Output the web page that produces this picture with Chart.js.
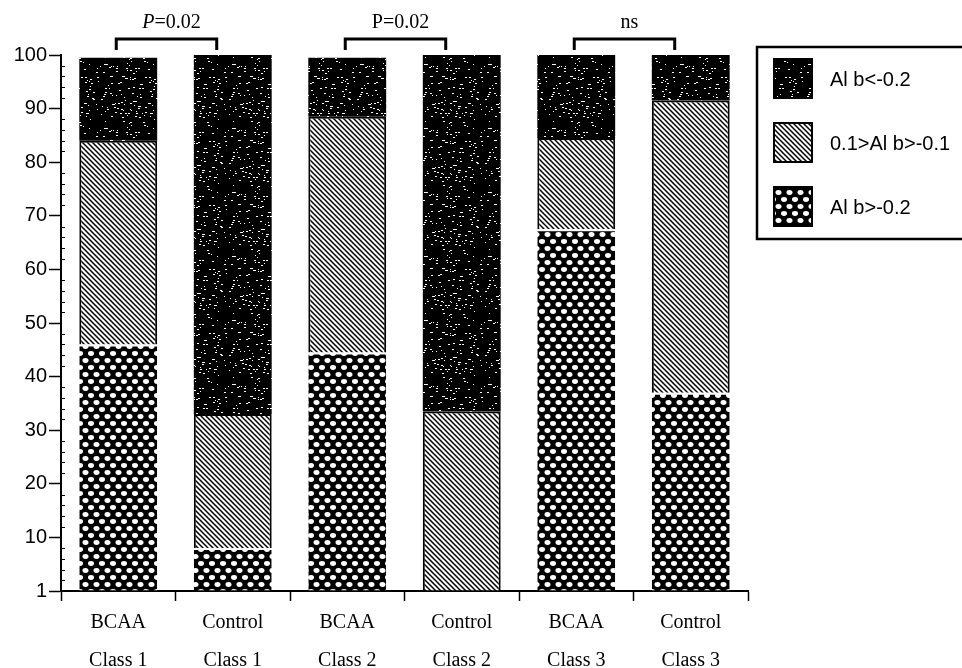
<!DOCTYPE html>
<html lang="en">
<head>
    <meta charset="UTF-8">
    <meta name="viewport" content="width=device-width, initial-scale=1.0">
    <title>Al b classes</title>
    <script src="https://cdn.jsdelivr.net/npm/chart.js@4.4.0/dist/chart.umd.min.js"></script>
    <style>
        html, body { margin: 0; padding: 0; background: #fff; }
        #wrap { width: 962px; height: 668px; }
    </style>
</head>
<body>
    <div id="wrap"><canvas id="chart" width="962" height="668"></canvas></div>

    <script>
        // Groups along the x axis (two lines each)
        const groups = [
            ["BCAA", "Class 1"], ["Control", "Class 1"],
            ["BCAA", "Class 2"], ["Control", "Class 2"],
            ["BCAA", "Class 3"], ["Control", "Class 3"]
        ];

        // Percentages per group, stacked from the bottom
        const highB = [46, 8, 44.5, 0, 67.5, 37];         // Al b>-0.2
        const midB  = [38, 25, 44, 33.5, 17, 54.5];       // 0.1>Al b>-0.1
        const lowB  = [15.5, 67.5, 11, 67, 16, 9];        // Al b<-0.2

        const seriesNames = ["Al b>-0.2", "0.1>Al b>-0.1", "Al b<-0.2"];

        // Y axis: bottom tick is printed as "1"
        const yTickValues = [0, 10, 20, 30, 40, 50, 60, 70, 80, 90, 100];
        const yTickLabels = ["1", "10", "20", "30", "40", "50", "60", "70", "80", "90", "100"];

        // Significance brackets between neighbouring bars
        const brackets = [
            { from: 0, to: 1, text: "=0.02", prefix: "P", italic: true },
            { from: 2, to: 3, text: "=0.02", prefix: "P", italic: false },
            { from: 4, to: 5, text: "ns", prefix: "", italic: false }
        ];

        const canvas = document.getElementById("chart");
        const ctx = canvas.getContext("2d");

        // --- fill patterns like the printed figure ---
        function makeTile(w, h, draw) {
            const c = document.createElement("canvas");
            c.width = w; c.height = h;
            draw(c.getContext("2d"));
            return ctx.createPattern(c, "repeat");
        }

        // black with white speckle
        const speckle = makeTile(64, 64, g => {
            g.fillStyle = "#000";
            g.fillRect(0, 0, 64, 64);
            g.fillStyle = "#fff";
            let s = 11;
            const rnd = () => { s = (s * 9301 + 49297) % 233280; return s / 233280; };
            for (let k = 0; k < 140; k++) {
                const x = Math.floor(rnd() * 64), y = Math.floor(rnd() * 64);
                g.fillRect(x, y, 1 + Math.floor(rnd() * 2), 1);
            }
        });

        // diagonal hatch on white
        const hatch = makeTile(5, 5, g => {
            g.fillStyle = "#fff";
            g.fillRect(0, 0, 5, 5);
            g.strokeStyle = "#000";
            g.lineWidth = 1.5;
            g.beginPath();
            g.moveTo(-1, -1); g.lineTo(6, 6);
            g.moveTo(-1, 4); g.lineTo(1, 6);
            g.moveTo(4, -1); g.lineTo(6, 1);
            g.stroke();
        });

        // black with staggered white dots
        const dots = makeTile(11, 14, g => {
            g.fillStyle = "#000";
            g.fillRect(0, 0, 11, 14);
            g.fillStyle = "#fff";
            g.beginPath(); g.ellipse(3, 3.5, 3.0, 2.4, 0, 0, Math.PI * 2); g.fill();
            g.beginPath(); g.ellipse(8.5, 10.5, 3.0, 2.4, 0, 0, Math.PI * 2); g.fill();
            g.beginPath(); g.ellipse(-2.5, 10.5, 3.0, 2.4, 0, 0, Math.PI * 2); g.fill();
        });

        // --- extra drawing: minor y ticks, brackets, boxed legend ---
        const decorations = {
            id: "decorations",
            afterDraw(chart) {
                const c = chart.ctx;
                const xs = chart.scales.x, ys = chart.scales.y;
                const area = chart.chartArea;
                c.save();

                // minor ticks every 2 units, inside the axis
                c.strokeStyle = "#000";
                c.lineWidth = 1.2;
                c.beginPath();
                for (let v = 2; v < 100; v += 2) {
                    if (v % 10 === 0) continue;
                    const y = Math.round(ys.getPixelForValue(v)) + 0.5;
                    c.moveTo(area.left, y);
                    c.lineTo(area.left + 4, y);
                }
                c.stroke();

                // brackets
                const catW = xs.getPixelForValue(1) - xs.getPixelForValue(0);
                brackets.forEach(b => {
                    const x1 = xs.getPixelForValue(b.from) - 2;
                    const x2 = xs.getPixelForValue(b.to) - catW * 0.14;
                    const yTop = area.top - 16, yEnd = area.top - 5;
                    c.strokeStyle = "#000";
                    c.lineWidth = 3;
                    c.beginPath();
                    c.moveTo(x1, yEnd); c.lineTo(x1, yTop); c.lineTo(x2, yTop); c.lineTo(x2, yEnd);
                    c.stroke();

                    const pFont = (b.italic ? "italic " : "") + "20px 'Liberation Serif', serif";
                    const tFont = "20px 'Liberation Serif', serif";
                    c.font = pFont;
                    const wp = b.prefix ? c.measureText(b.prefix).width : 0;
                    c.font = tFont;
                    const wt = c.measureText(b.text).width;
                    let x = (x1 + x2) / 2 + 5 - (wp + wt) / 2;
                    const y = area.top - 32;
                    c.fillStyle = "#000";
                    c.textBaseline = "middle";
                    c.textAlign = "left";
                    if (b.prefix) {
                        c.font = pFont;
                        c.fillText(b.prefix, x, y);
                        x += wp;
                    }
                    c.font = tFont;
                    c.fillText(b.text, x, y);
                });

                // legend box, cut by the right edge as in the print
                const lx = 757, ly = 47;
                c.lineWidth = 2.5;
                c.strokeStyle = "#000";
                c.strokeRect(lx, ly, 230, 192);
                const items = chart.data.datasets.slice().reverse();
                c.font = "20px 'Liberation Sans', Arial, sans-serif";
                c.textBaseline = "middle";
                c.textAlign = "left";
                items.forEach((ds, i) => {
                    const top = 59 + i * 64;
                    c.fillStyle = ds.backgroundColor;
                    c.fillRect(774, top, 38, 39);
                    c.lineWidth = 2;
                    c.strokeRect(774, top, 38, 39);
                    c.fillStyle = "#000";
                    c.fillText(ds.label, 830, top + 21);
                });

                c.restore();
            }
        };

        new Chart(ctx, {
            type: "bar",
            data: {
                labels: groups,
                datasets: [
                    {
                        label: seriesNames[0],
                        data: highB,
                        backgroundColor: dots,
                        borderColor: "#fff",
                        borderWidth: { top: 2, left: 0, right: 0, bottom: 0 },
                        borderSkipped: false
                    },
                    {
                        label: seriesNames[1],
                        data: midB,
                        backgroundColor: hatch,
                        borderColor: "#000",
                        borderWidth: { top: 2, left: 2, right: 2, bottom: 0 },
                        borderSkipped: false
                    },
                    {
                        label: seriesNames[2],
                        data: lowB,
                        backgroundColor: speckle,
                        borderColor: "#000",
                        borderWidth: 0,
                        borderSkipped: false
                    }
                ]
            },
            options: {
                responsive: false,
                animation: false,
                events: [],
                barPercentage: 0.68,
                categoryPercentage: 1.0,
                layout: { padding: { top: 55, right: 214, left: 0, bottom: 0 } },
                plugins: {
                    legend: { display: false },
                    tooltip: { enabled: false },
                    title: { display: false }
                },
                scales: {
                    x: {
                        stacked: true,
                        offset: true,
                        afterFit: s => { s.height = 77; },
                        grid: {
                            display: true,
                            drawOnChartArea: false,
                            offset: true,
                            tickLength: 10,
                            tickWidth: 1.5,
                            tickColor: "#000"
                        },
                        border: { display: true, color: "#000", width: 2 },
                        ticks: {
                            color: "#000",
                            padding: 3,
                            maxRotation: 0,
                            font: { family: "'Liberation Serif', serif", size: 20, lineHeight: 1.9 }
                        }
                    },
                    y: {
                        stacked: true,
                        min: 0,
                        max: 100,
                        afterFit: s => { s.width = 61; },
                        afterBuildTicks: s => { s.ticks = yTickValues.map(v => ({ value: v })); },
                        grid: {
                            display: true,
                            drawOnChartArea: false,
                            tickLength: 12,
                            tickWidth: 1.5,
                            tickColor: "#000"
                        },
                        border: { display: true, color: "#000", width: 2 },
                        ticks: {
                            color: "#000",
                            padding: 2,
                            font: { family: "'Liberation Sans', Arial, sans-serif", size: 20 },
                            callback: (v) => yTickLabels[yTickValues.indexOf(v)]
                        }
                    }
                }
            },
            plugins: [decorations]
        });
    </script>
</body>
</html>
